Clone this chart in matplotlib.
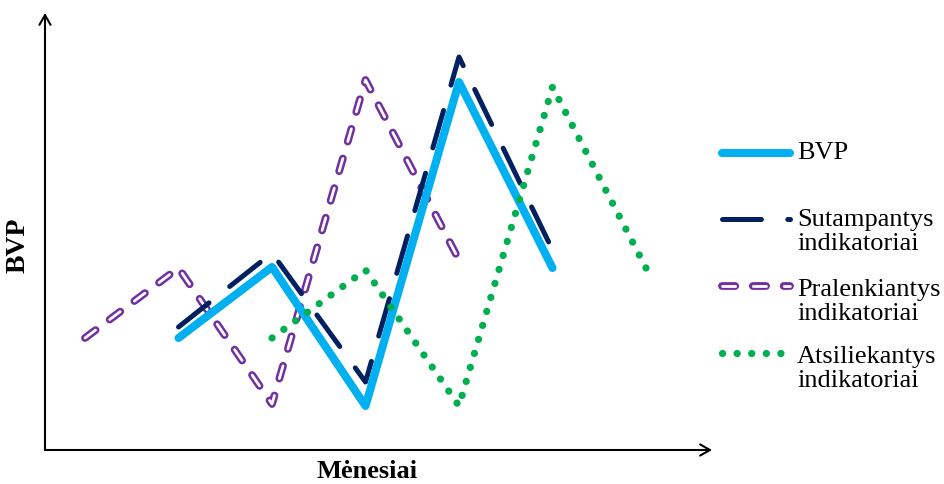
import matplotlib.pyplot as plt
from matplotlib.lines import Line2D

plt.rcParams['font.family'] = ['Liberation Serif', 'DejaVu Serif']
plt.rcParams['lines.scale_dashes'] = False

W, H = 945, 484

# months along the x axis, values in arbitrary units
months = [0, 1, 2, 3, 4, 5, 6]
bvp_x = months[1:6]
bvp = [11.2, 18.3, 4.4, 36.8, 18.2]
sut_x = months[1:6]
sutampantys = [12.3, 19.7, 6.8, 39.3, 20.0]
pra_x = months[0:5]
pralenkiantys = [11.2, 18.2, 4.6, 37.0, 19.0]
ats_x = months[2:7]
atsiliekantys = [11.2, 18.0, 4.4, 36.3, 18.2]

labels = ['BVP', 'Sutampantys\nindikatoriai', 'Pralenkiantys\nindikatoriai',
          'Atsiliekantys\nindikatoriai']

BLUE = '#00B0F0'
NAVY = '#002060'
PURPLE = '#7030A0'
GREEN = '#00B050'

styles = {
    'bvp': dict(color=BLUE, lw=5.8, solid_capstyle='round', solid_joinstyle='round'),
    'sut': dict(color=NAVY, lw=3.6, dashes=(28, 19), dash_capstyle='round',
                dash_joinstyle='round'),
    'pra_out': dict(color=PURPLE, lw=5.6, dashes=(9.5, 12.7), dash_capstyle='round'),
    'pra_in': dict(color='white', lw=2.0, dashes=(9.5, 12.7), dash_capstyle='round'),
    'ats': dict(color=GREEN, lw=5.2, dashes=(0.1, 10.4), dash_capstyle='round'),
}

fig = plt.figure(figsize=(W / 100, H / 100), dpi=100)
x0, x1, y0, y1 = 45, 712, 450, 13
ax = fig.add_axes([x0 / W, 1 - y0 / H, (x1 - x0) / W, (y0 - y1) / H])

ax.plot(pra_x, pralenkiantys, **styles['pra_out'])
ax.plot(pra_x, pralenkiantys, **styles['pra_in'])
ax.plot(sut_x, sutampantys, **styles['sut'])
ax.plot(bvp_x, bvp, **styles['bvp'])
ax.plot(ats_x, atsiliekantys, **styles['ats'])

ax.set_xlim((x0 - 85) / 93.5, (x1 - 85) / 93.5)
ax.set_ylim(0, (y0 - y1) / 10)
ax.axis('off')

# arrow axes
arrow = dict(arrowstyle='->,head_length=0.7,head_width=0.4', lw=1.5, color='black',
             shrinkA=0, shrinkB=0)
ax.annotate('', xy=(0, 1), xytext=(0, 0), xycoords='axes fraction', arrowprops=arrow)
ax.annotate('', xy=(1, 0), xytext=(0, 0), xycoords='axes fraction', arrowprops=arrow)

fig.text(18 / W, 1 - 245 / H, 'BVP', rotation=90, fontsize=20, fontweight='bold',
         ha='center', va='center')
fig.text(367 / W, 1 - 472 / H, 'Mėnesiai', fontsize=19, fontweight='bold',
         ha='center', va='center')

# legend drawn by hand
def sample(y, style_keys):
    for key in style_keys:
        fig.add_artist(Line2D([722 / W, 790 / W], [1 - y / H, 1 - y / H],
                              transform=fig.transFigure, **styles[key]))

sample(153, ['bvp'])
sample(219, ['sut'])
sample(286, ['pra_out', 'pra_in'])
sample(353, ['ats'])

fig.text(797 / W, 1 - 153 / H, labels[0], fontsize=19, va='center')
for y, lab in zip([232, 302, 369], labels[1:]):
    fig.text(797 / W, 1 - y / H, lab, fontsize=19, va='center', linespacing=1.1)

fig.savefig('out.png', dpi=100)
